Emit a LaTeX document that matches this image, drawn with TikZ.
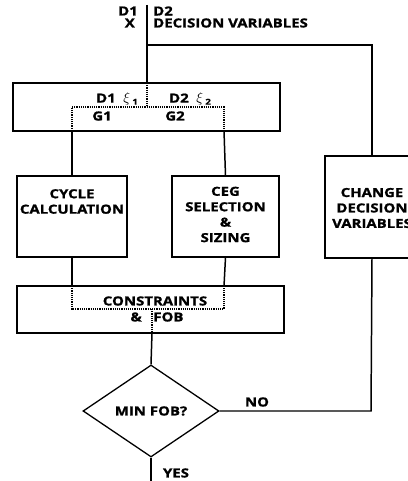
\documentclass[tikz,border=0pt]{standalone}
\usepackage{fontspec}
\setmainfont[FakeStretch=1.2,BoldFeatures={FakeBold=1.2}]{Open Sans}
\usepackage{tikz}
\usetikzlibrary{shapes,shapes.geometric,positioning,calc}

\tikzset{
  block/.style={draw,line width=1.3pt,inner sep=0pt},
  txt/.style={font=\bfseries\fontsize{12.5}{15.5}\selectfont,align=center,inner sep=0pt},
  link/.style={line width=1.5pt},
  dots/.style={line width=1.2pt,densely dotted},
}
\newcommand{\greek}[2]{{\fontsize{15}{15}\selectfont$\xi$}\,{\fontsize{8}{8}\selectfont\raisebox{-2pt}{#2}}}

\begin{document}
\begin{tikzpicture}[line join=miter]
%%
\useasboundingbox (0bp,0bp) rectangle (408bp,481bp);
\clip (0bp,0bp) rectangle (408bp,481bp);
\node (top) at (146.5bp,374bp) [block,minimum width=267bp,minimum height=48bp] {};
  \node (cyc) at (72bp,264.5bp) [block,minimum width=110bp,minimum height=81bp] {};
  \node (ceg) at (225.5bp,264.5bp) [block,minimum width=107bp,minimum height=81bp] {};
  \node (cons) at (150.5bp,171.5bp) [block,minimum width=267bp,minimum height=47bp] {};
  \node (chg) at (372bp,274bp) [block,minimum width=94bp,minimum height=102bp] {};
  \node (minfob) at (151bp,70bp) [block,diamond,minimum width=136bp,minimum height=92bp] {};
%% texts
  \node (d1) at (138bp,470bp) [txt,anchor=east] {D1};
  \node (xx) at (135bp,458bp) [txt,anchor=east] {X};
  \node (d2) at (153bp,470bp) [txt,anchor=west] {D2};
  \node (dv) at (153bp,458bp) [txt,anchor=west] {DECISION VARIABLES};
  \node (d1xi) at (117bp,382bp) [txt] {D1\ \ \greek{}{1}};
  \node (d2xi) at (190bp,382bp) [txt] {D2\ \ \greek{}{2}};
  \node (g1) at (102bp,365bp) [txt] {G1};
  \node (g2) at (175bp,365bp) [txt] {G2};
  \node (cyctxt) at (72bp,279.5bp) [txt] {CYCLE\\CALCULATION};
  \node (cegtxt) at (225.5bp,266.5bp) [txt] {CEG\\SELECTION\\\&\\SIZING};
  \node (chgtxt) at (372bp,273bp) [txt] {CHANGE\\DECISION\\VARIABLES};
  \node (constxt) at (155bp,180bp) [txt] {CONSTRAINTS};
  \node (fobtxt) at (157bp,164bp) [txt] {\&\ \ \ FOB};
  \node (mintxt) at (151bp,70bp) [txt] {MIN FOB?};
  \node (no) at (257bp,79bp) [txt] {NO};
  \node (yes) at (176bp,8bp) [txt] {YES};
%% junction points
  \coordinate (in) at (147bp,476bp);
  \coordinate (split) at (147bp,436bp);
  \coordinate (corner) at (372bp,436bp);
  \coordinate (tin) at (147bp,398bp);
  \coordinate (tmid) at (147bp,374bp);
  \coordinate (tl) at (72bp,374bp);
  \coordinate (tr) at (224bp,374bp);
  \coordinate (tlo) at (72bp,350bp);
  \coordinate (tro) at (224bp,350bp);
  \coordinate (cl) at (72bp,195bp);
  \coordinate (cr) at (224bp,195bp);
  \coordinate (cll) at (72bp,172bp);
  \coordinate (crr) at (224bp,172bp);
  \coordinate (cmid) at (152bp,172bp);
  \coordinate (cout) at (152bp,148bp);
  \coordinate (out) at (151bp,0bp);
  \coordinate (back) at (371bp,70bp);
%% connectors
  \draw [link] (in) -- (tin);
  \draw [link] (split) -- (corner) -- (chg.north);
  \draw [dots] (tin) -- (tmid);
  \draw [dots] (tlo) -- (tl) -- (tr) -- (tro);
  \draw [link] (tlo) -- (cyc.north);
  \draw [link] (tro) -- (ceg.north);
  \draw [link] (cyc.south) -- (cl);
  \draw [link] (ceg.south) -- (cr);
  \draw [dots] (cl) -- (cll) -- (crr) -- (cr);
  \draw [dots] (cmid) -- (cout);
  \draw [link] (cout) -- (minfob.north);
  \draw [link] (minfob.south) -- (out);
  \draw [link] (minfob.east) -- (back) -- (chg.south);
%
\end{tikzpicture}
\end{document}
